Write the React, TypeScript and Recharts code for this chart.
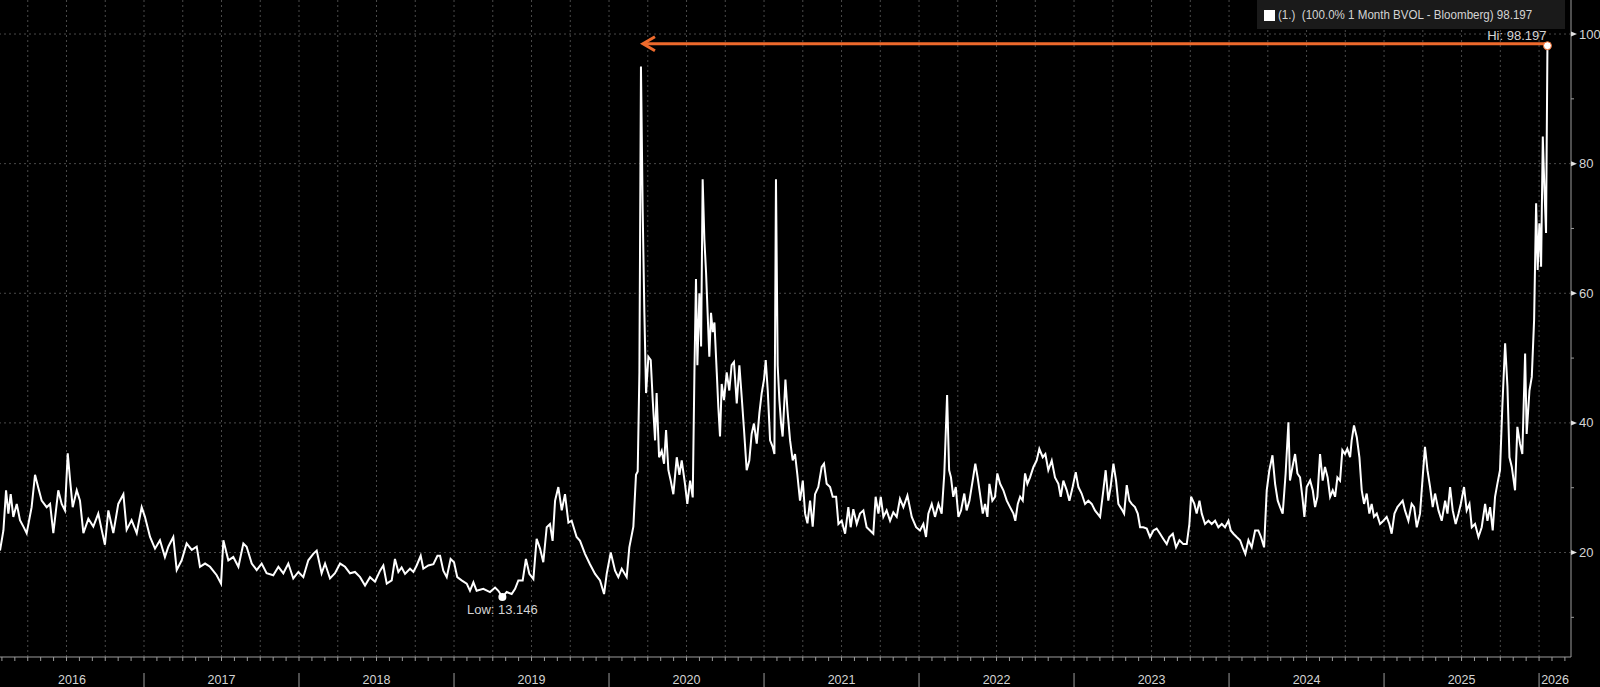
import { LineChart, Line, XAxis, YAxis, ReferenceLine, ReferenceDot } from 'recharts';

type Pt = [number, number];

// 1 Month BVOL, sampled about weekly, [decimal year, vol]
const y2016: Pt[] = [
  [2016.071, 20.3], [2016.093, 23.4], [2016.11, 29.6], [2016.125, 26], [2016.14, 29], [2016.157, 25.5],
  [2016.179, 27.5], [2016.2, 25], [2016.222, 24], [2016.243, 23], [2016.275, 27], [2016.297, 32],
  [2016.318, 30], [2016.34, 28], [2016.372, 27], [2016.394, 27.5], [2016.415, 23], [2016.447, 29.6],
  [2016.469, 27.5], [2016.49, 26.5], [2016.508, 35.3], [2016.523, 31.2], [2016.54, 27], [2016.566, 29.6],
  [2016.587, 28], [2016.609, 23], [2016.641, 25.2], [2016.673, 24], [2016.705, 26], [2016.727, 23.5],
  [2016.748, 21.2], [2016.77, 26.5], [2016.802, 23], [2016.834, 27.5], [2016.867, 29], [2016.888, 23.5],
  [2016.92, 25], [2016.953, 23], [2016.985, 27],
];
const y2017: Pt[] = [
  [2017.006, 25.5], [2017.039, 22.4], [2017.071, 20.6], [2017.103, 21.9], [2017.135, 19.3], [2017.157, 20.9],
  [2017.189, 22.4], [2017.211, 17.3], [2017.243, 18.8], [2017.275, 21.4], [2017.308, 20.4], [2017.34, 20.9],
  [2017.361, 17.8], [2017.394, 18.3], [2017.426, 17.8], [2017.469, 16.5], [2017.497, 15.2], [2017.512, 21.9],
  [2017.544, 18.8], [2017.576, 19.3], [2017.609, 17.8], [2017.641, 21.4], [2017.662, 20.9], [2017.695, 18.3],
  [2017.727, 17.3], [2017.759, 18.3], [2017.791, 16.8], [2017.834, 16.5], [2017.867, 17.8], [2017.899, 16.8],
  [2017.931, 18.3], [2017.963, 16], [2017.996, 17],
];
const y2018: Pt[] = [
  [2018.028, 16.2], [2018.06, 18.8], [2018.092, 19.8], [2018.114, 20.3], [2018.146, 16.8], [2018.168, 18.3],
  [2018.2, 16], [2018.232, 16.8], [2018.265, 18.3], [2018.297, 17.8], [2018.329, 16.8], [2018.361, 17],
  [2018.394, 16.2], [2018.426, 14.9], [2018.458, 16.2], [2018.49, 15.5], [2018.523, 17.2], [2018.544, 18],
  [2018.566, 15.2], [2018.598, 15.7], [2018.619, 19], [2018.641, 17], [2018.662, 17.7], [2018.684, 16.7],
  [2018.716, 17.5], [2018.738, 17], [2018.759, 18], [2018.785, 19.5], [2018.802, 17.5], [2018.834, 18],
  [2018.867, 18.2], [2018.893, 19.5], [2018.91, 19.5], [2018.931, 17.2], [2018.953, 16.2], [2018.978, 19],
];
const y2019: Pt[] = [
  [2019.0, 18.5], [2019.021, 16.2], [2019.049, 15.7], [2019.082, 15.2], [2019.103, 14.1], [2019.125, 15.4],
  [2019.146, 14.1], [2019.189, 14.4], [2019.232, 13.9], [2019.265, 14.6], [2019.286, 14.1], [2019.312, 13.146],
  [2019.34, 13.9], [2019.372, 13.6], [2019.394, 14.4], [2019.415, 15.7], [2019.443, 15.7], [2019.464, 19],
  [2019.486, 16.7], [2019.512, 15.9], [2019.533, 22.1], [2019.555, 20.6], [2019.576, 18.5], [2019.598, 23.9],
  [2019.619, 24.4], [2019.636, 21.8], [2019.652, 28], [2019.673, 30.1], [2019.695, 26.5], [2019.716, 29],
  [2019.738, 24.6], [2019.759, 24.9], [2019.791, 22.4], [2019.813, 21.8], [2019.845, 19.8], [2019.877, 18.2],
  [2019.91, 16.7], [2019.942, 15.7], [2019.968, 13.6], [2019.985, 16.7],
];
const y2020: Pt[] = [
  [2020.011, 20], [2020.039, 17.2], [2020.06, 16.2], [2020.082, 17.5], [2020.114, 16.2], [2020.131, 20.8],
  [2020.157, 24], [2020.174, 32], [2020.185, 32.5], [2020.196, 47.8], [2020.206, 95], [2020.217, 73],
  [2020.228, 57], [2020.239, 44.6], [2020.254, 50.2], [2020.269, 49.7], [2020.282, 43.5], [2020.297, 37.3],
  [2020.307, 44.6], [2020.323, 34.7], [2020.34, 35.7], [2020.355, 33.7], [2020.368, 38.9], [2020.383, 32.7],
  [2020.398, 31.1], [2020.415, 29], [2020.437, 34.7], [2020.454, 32], [2020.469, 34.2], [2020.49, 30.6],
  [2020.505, 27.5], [2020.523, 31.1], [2020.54, 28.5], [2020.551, 47.8], [2020.561, 62.2], [2020.57, 48.9],
  [2020.583, 60], [2020.594, 51.8], [2020.604, 77.6], [2020.615, 68.4], [2020.626, 63.2], [2020.636, 57],
  [2020.647, 50.2], [2020.658, 57], [2020.669, 54], [2020.68, 55.5], [2020.695, 47.8], [2020.705, 42.5],
  [2020.716, 37.9], [2020.727, 46], [2020.742, 43.5], [2020.759, 47.8], [2020.776, 45], [2020.791, 48.9],
  [2020.806, 49.4], [2020.824, 43], [2020.841, 48.9], [2020.856, 44], [2020.871, 38.9], [2020.888, 32.7],
  [2020.905, 34.2], [2020.92, 38.3], [2020.935, 39.9], [2020.953, 36.8], [2020.97, 41.5], [2020.985, 44.6],
];
const y2021: Pt[] = [
  [2021.0, 46.7], [2021.011, 49.7], [2021.024, 45], [2021.039, 37.3], [2021.056, 36.3], [2021.067, 35.2],
  [2021.077, 77.6], [2021.088, 48.9], [2021.099, 43.5], [2021.11, 39.9], [2021.12, 37.9], [2021.138, 46.7],
  [2021.151, 42], [2021.168, 37.3], [2021.185, 34.2], [2021.2, 35.2], [2021.215, 32], [2021.232, 28],
  [2021.25, 31.1], [2021.265, 26], [2021.28, 24.5], [2021.297, 28], [2021.314, 24], [2021.329, 29],
  [2021.35, 30.1], [2021.372, 33.2], [2021.387, 33.7], [2021.404, 30.6], [2021.426, 30.1], [2021.443, 28.6],
  [2021.465, 28.6], [2021.48, 24.4], [2021.501, 24.9], [2021.523, 22.9], [2021.544, 27], [2021.559, 23.9],
  [2021.576, 26.7], [2021.598, 24.4], [2021.619, 26], [2021.641, 26.5], [2021.662, 23.9], [2021.684, 23.4],
  [2021.705, 22.9], [2021.72, 28.6], [2021.738, 26], [2021.753, 28.6], [2021.77, 25.5], [2021.791, 26.5],
  [2021.813, 24.9], [2021.834, 26.2], [2021.856, 25.5], [2021.877, 28.3], [2021.899, 27], [2021.925, 28.8],
  [2021.953, 25.5], [2021.981, 23.9],
];
const y2022: Pt[] = [
  [2022.006, 23.4], [2022.028, 24.4], [2022.045, 22.4], [2022.06, 26], [2022.082, 27.5], [2022.103, 25.5],
  [2022.125, 27.5], [2022.146, 26], [2022.163, 32.2], [2022.181, 44.3], [2022.194, 32.7], [2022.206, 31.6],
  [2022.221, 28.6], [2022.237, 30.1], [2022.254, 25.5], [2022.271, 26.5], [2022.292, 29.1], [2022.307, 26.5],
  [2022.325, 28], [2022.346, 31.1], [2022.363, 33.7], [2022.378, 31.6], [2022.393, 29.1], [2022.411, 26],
  [2022.426, 27.5], [2022.441, 25.5], [2022.454, 30.6], [2022.473, 28], [2022.49, 28.6], [2022.505, 32.2],
  [2022.523, 30.6], [2022.544, 29.6], [2022.566, 28], [2022.587, 27], [2022.609, 26], [2022.621, 24.9],
  [2022.637, 27.5], [2022.652, 28.6], [2022.669, 28], [2022.684, 32.2], [2022.699, 30.6], [2022.716, 31.6],
  [2022.738, 33.2], [2022.759, 34.2], [2022.776, 36], [2022.798, 34.7], [2022.815, 35.2], [2022.834, 32.7],
  [2022.856, 34.2], [2022.877, 31.6], [2022.899, 30.6], [2022.914, 28.6], [2022.931, 31.1], [2022.953, 29.6],
  [2022.97, 28], [2022.991, 30.1],
];
const y2023: Pt[] = [
  [2023.011, 32.4], [2023.028, 30.1], [2023.049, 29.1], [2023.071, 27.5], [2023.092, 28], [2023.114, 27.5],
  [2023.135, 26.5], [2023.168, 25.5], [2023.189, 29.6], [2023.204, 32.7], [2023.221, 28], [2023.236, 30.1],
  [2023.254, 33.7], [2023.271, 31.1], [2023.286, 27.5], [2023.307, 26.7], [2023.323, 26], [2023.34, 30.4],
  [2023.357, 28], [2023.372, 27.5], [2023.393, 27], [2023.411, 26], [2023.426, 23.9], [2023.447, 23.9],
  [2023.469, 23.7], [2023.49, 22.4], [2023.512, 23.4], [2023.533, 23.7], [2023.555, 22.9], [2023.576, 22.1],
  [2023.598, 21.3], [2023.615, 22.4], [2023.637, 22.9], [2023.658, 20.8], [2023.68, 21.9], [2023.705, 21.3],
  [2023.727, 21.3], [2023.744, 24.4], [2023.755, 28.6], [2023.776, 27.5], [2023.791, 26], [2023.809, 28],
  [2023.824, 26], [2023.845, 24.4], [2023.867, 24.9], [2023.888, 24.4], [2023.91, 24.9], [2023.931, 23.9],
  [2023.953, 24.4], [2023.974, 23.9], [2023.996, 24.9],
];
const y2024: Pt[] = [
  [2024.011, 23.4], [2024.028, 22.9], [2024.049, 22.4], [2024.071, 21.9], [2024.088, 20.8], [2024.105, 19.8],
  [2024.125, 21.9], [2024.146, 20.8], [2024.168, 23.4], [2024.189, 23.4], [2024.206, 22.4], [2024.226, 20.8],
  [2024.243, 29.6], [2024.26, 32.7], [2024.28, 35], [2024.297, 30.6], [2024.314, 28], [2024.329, 27],
  [2024.346, 26], [2024.365, 32.2], [2024.383, 40.1], [2024.393, 31.1], [2024.409, 33.2], [2024.426, 35.2],
  [2024.441, 32.2], [2024.458, 31.6], [2024.473, 28.6], [2024.486, 25.5], [2024.501, 30.1], [2024.523, 31.1],
  [2024.54, 29.6], [2024.555, 27], [2024.57, 28.6], [2024.587, 35.2], [2024.604, 31.1], [2024.619, 33.2],
  [2024.636, 31.6], [2024.652, 28.6], [2024.669, 29.6], [2024.684, 28.6], [2024.699, 31.6], [2024.716, 31.1],
  [2024.731, 35.8], [2024.748, 35.2], [2024.763, 36], [2024.781, 34.7], [2024.791, 37.3], [2024.806, 39.6],
  [2024.824, 37.8], [2024.841, 34.7], [2024.856, 29.6], [2024.871, 27.5], [2024.888, 29.1], [2024.905, 26],
  [2024.92, 27.5], [2024.935, 25.5], [2024.953, 26], [2024.974, 24.4], [2024.996, 24.9],
];
const y2025: Pt[] = [
  [2025.017, 25.5], [2025.034, 24.4], [2025.049, 22.9], [2025.067, 26], [2025.086, 27], [2025.103, 27.5],
  [2025.12, 28], [2025.135, 26.5], [2025.157, 24.9], [2025.178, 27.5], [2025.194, 27], [2025.211, 23.9],
  [2025.232, 26], [2025.249, 31.6], [2025.264, 36.3], [2025.28, 32.7], [2025.297, 30.1], [2025.314, 27],
  [2025.329, 29.1], [2025.351, 26.5], [2025.372, 24.9], [2025.394, 28], [2025.409, 26], [2025.426, 30.1],
  [2025.443, 26.5], [2025.462, 24.4], [2025.48, 26], [2025.495, 27.5], [2025.516, 30.1], [2025.533, 26.5],
  [2025.551, 27.5], [2025.566, 23.9], [2025.587, 24.4], [2025.609, 22.4], [2025.63, 23.9], [2025.652, 27.5],
  [2025.667, 24.9], [2025.684, 27], [2025.701, 23.4], [2025.716, 28.6], [2025.731, 30.6], [2025.748, 32.7],
  [2025.763, 42.5], [2025.781, 52.3], [2025.796, 45.6], [2025.809, 34.7], [2025.824, 33.2], [2025.845, 29.6],
  [2025.86, 39.4], [2025.877, 36.8], [2025.892, 35.2], [2025.91, 50.7], [2025.92, 38.3], [2025.938, 45],
  [2025.953, 47.1], [2025.968, 55.9], [2025.981, 73.9], [2025.991, 63.6],
];
const y2026: Pt[] = [
  [2026.002, 70.8], [2026.013, 64.1], [2026.024, 84.2], [2026.034, 76.5], [2026.045, 69.3], [2026.054, 98.197],
];

const yearLabels = ['2016', '2017', '2018', '2019', '2020', '2021', '2022', '2023', '2024', '2025', '2026'];
const yTicks = [10, 20, 30, 40, 50, 60, 70, 80, 90, 100];
const gridValues = [20, 40, 60, 80, 100];
const legendText = '(1.)  (100.0% 1 Month BVOL - Bloomberg) 98.197';

const X_MIN = 2016.071;
const X_MAX = 2026.206;
const Y_MIN = 3.88;
const Y_MAX = 105.25;

const ORANGE = '#ee6a2c';
const GRID = '#4a4a4a';
const AXIS = '#9c9c9c';
const TEXT = '#d4d4d4';
const FONT = '"Liberation Sans", Arial, sans-serif';

const data = [...y2016, ...y2017, ...y2018, ...y2019, ...y2020, ...y2021, ...y2022, ...y2023, ...y2024, ...y2025, ...y2026]
  .map(([t, v]) => ({ t, v }));

const hi = data[data.length - 1];
const low = data.reduce((a, b) => (b.v < a.v ? b : a));
const prevPeak = data.slice(0, -1).reduce((a, b) => (b.v > a.v ? b : a));

const years = yearLabels.map(Number);
const monthTicks: number[] = [];
const quarterTicks: number[] = [];
years.forEach((y) => {
  for (let m = 0; m < 12; m++) {
    const t = y + m / 12;
    if (t > X_MIN && t < X_MAX) {
      monthTicks.push(t);
      if (m % 3 === 0) quarterTicks.push(t);
    }
  }
});
const yearStarts = years.filter((y) => y > X_MIN && y < X_MAX);
const yearCenters = years.map((y) => (Math.max(y, X_MIN) + Math.min(y + 1, X_MAX)) / 2);

function MonthTick(props: any) {
  const { x, y } = props;
  return <line x1={x} y1={y} x2={x} y2={y + 4} stroke={AXIS} strokeWidth={1} />;
}

function YearTick(props: any) {
  const { x, y, payload } = props;
  const v = payload.value;
  if (Number.isInteger(v)) {
    return <line x1={x} y1={y + 4} x2={x} y2={y + 18} stroke={AXIS} strokeWidth={1} />;
  }
  const idx = yearCenters.indexOf(v);
  return (
    <text x={x} y={y + 15} textAnchor="middle" fill={TEXT} fontSize={12.5} fontFamily={FONT}>
      {yearLabels[idx]}
    </text>
  );
}

function ValueTick(props: any) {
  const { x, y, payload } = props;
  const v = payload.value;
  if (v % 20 !== 0) {
    return <line x1={x} y1={y} x2={x + 3} y2={y} stroke={AXIS} strokeWidth={1} />;
  }
  return (
    <g>
      <polygon points={`${x},${y - 2.5} ${x + 6},${y} ${x},${y + 2.5}`} fill="#e0e0e0" />
      <text x={x + 8} y={y + 4.5} fill={TEXT} fontSize={13} fontFamily={FONT}>
        {v}
      </text>
    </g>
  );
}

function HiArrow(props: any) {
  const { x1, y1, x2 } = props;
  const y = y1 - 2;
  return (
    <g>
      <line x1={x1 + 3} y1={y} x2={x2} y2={y} stroke={ORANGE} strokeWidth={3} />
      <polyline
        points={`${x1 + 14},${y - 7} ${x1 + 2},${y} ${x1 + 14},${y + 7}`}
        fill="none"
        stroke={ORANGE}
        strokeWidth={3}
      />
    </g>
  );
}

function LowMark(props: any) {
  const { cx, cy } = props;
  return (
    <g>
      <circle cx={cx} cy={cy} r={4} fill="#ffffff" />
      <text x={cx} y={cy + 17} textAnchor="middle" fill={TEXT} fontSize={13} fontFamily={FONT}>
        {`Low: ${low.v}`}
      </text>
    </g>
  );
}

function HiMark(props: any) {
  const { cx, cy } = props;
  return (
    <g>
      <circle cx={cx} cy={cy} r={4} fill="#ffffff" stroke={ORANGE} strokeWidth={1} />
      <text x={cx - 1} y={cy - 6} textAnchor="end" fill={TEXT} fontSize={13} fontFamily={FONT}>
        {`Hi: ${hi.v}`}
      </text>
    </g>
  );
}

export default function App() {
  return (
    <div style={{ position: 'relative', width: 1600, height: 687, background: '#000', fontFamily: FONT }}>
      <style>{'body { margin: 0; background: #000; }'}</style>
      <LineChart width={1600} height={687} data={data} margin={{ top: 0, right: 0, bottom: 0, left: 0 }}>
        <XAxis
          xAxisId="t"
          dataKey="t"
          type="number"
          domain={[X_MIN, X_MAX]}
          allowDataOverflow
          ticks={monthTicks}
          interval={0}
          height={12}
          tickSize={0}
          tickMargin={0}
          tickLine={false}
          axisLine={{ stroke: AXIS }}
          tick={<MonthTick />}
        />
        <XAxis
          xAxisId="yr"
          dataKey="t"
          type="number"
          domain={[X_MIN, X_MAX]}
          allowDataOverflow
          ticks={[...yearStarts, ...yearCenters]}
          interval={0}
          height={18}
          tickSize={0}
          tickMargin={0}
          tickLine={false}
          axisLine={false}
          tick={<YearTick />}
        />
        <YAxis
          yAxisId="v"
          orientation="right"
          type="number"
          domain={[Y_MIN, Y_MAX]}
          allowDataOverflow
          ticks={yTicks}
          interval={0}
          width={29}
          tickSize={0}
          tickMargin={0}
          tickLine={false}
          axisLine={{ stroke: AXIS }}
          tick={<ValueTick />}
        />
        {quarterTicks.map((q) => (
          <ReferenceLine key={`q${q}`} xAxisId="t" yAxisId="v" x={q} stroke={GRID} strokeDasharray="2 3" />
        ))}
        {gridValues.map((g) => (
          <ReferenceLine key={`h${g}`} xAxisId="t" yAxisId="v" y={g} stroke={GRID} strokeDasharray="2 3" />
        ))}
        <Line
          xAxisId="t"
          yAxisId="v"
          dataKey="v"
          type="linear"
          stroke="#ffffff"
          strokeWidth={2}
          dot={false}
          activeDot={false}
          isAnimationActive={false}
        />
        <ReferenceLine
          xAxisId="t"
          yAxisId="v"
          segment={[{ x: prevPeak.t, y: hi.v }, { x: hi.t, y: hi.v }]}
          shape={(p: any) => <HiArrow {...p} />}
        />
        <ReferenceDot xAxisId="t" yAxisId="v" x={low.t} y={low.v} r={4} shape={(p: any) => <LowMark {...p} />} />
        <ReferenceDot xAxisId="t" yAxisId="v" x={hi.t} y={hi.v} r={4} shape={(p: any) => <HiMark {...p} />} />
      </LineChart>
      <div
        style={{
          position: 'absolute',
          left: 1257,
          top: 0,
          width: 308,
          height: 29,
          background: '#1a1a1a',
          boxSizing: 'border-box',
          color: TEXT,
          fontSize: 13,
          whiteSpace: 'pre',
        }}
      >
        <span style={{ position: 'absolute', left: 7, top: 10, width: 11, height: 11, background: '#fff' }} />
        <span
          style={{
            position: 'absolute',
            left: 21,
            top: 7,
            lineHeight: '16px',
            transform: 'scaleX(0.89)',
            transformOrigin: 'left center',
          }}
        >
          {legendText}
        </span>
      </div>
    </div>
  );
}
